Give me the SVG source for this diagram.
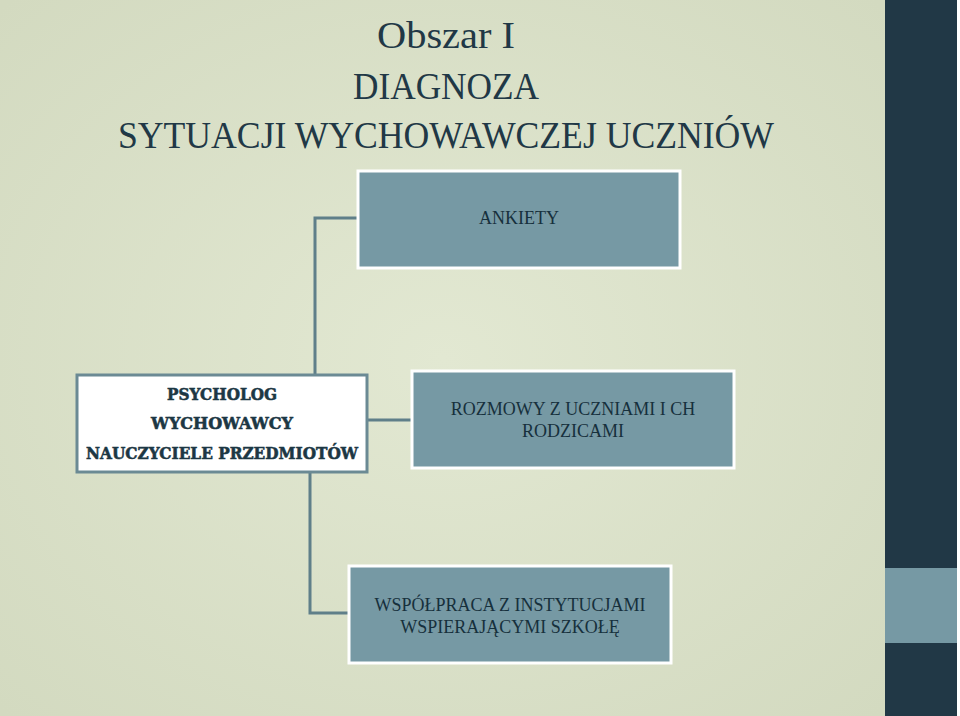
<svg xmlns="http://www.w3.org/2000/svg" width="960" height="716" viewBox="0 0 960 716">
<defs>
<radialGradient id="bg" cx="0.5" cy="0.5" r="0.7">
<stop offset="0" stop-color="#e2e8d2"/><stop offset="1" stop-color="#d3dac0"/>
</radialGradient>
<style>
.box{fill:#7699a4;stroke:#ffffff;stroke-width:3}
.wbox{fill:#ffffff;stroke:#6b8a94;stroke-width:3}
.t{font-family:"Liberation Serif",serif;font-size:18px;fill:#16303c;text-anchor:middle}
.b{font-family:"DejaVu Serif",serif;font-weight:900;font-size:17px;fill:#1c3744;text-anchor:middle;stroke:#1c3744;stroke-width:0.6}
.h{font-family:"Liberation Serif",serif;font-size:38px;fill:#213846;text-anchor:middle}
.c{fill:none;stroke:#5f7f89;stroke-width:3}
</style>
</defs>
<rect width="960" height="716" fill="#fff"/>
<rect x="0" y="0" width="886" height="716" fill="url(#bg)"/>
<rect x="885" y="0" width="72" height="716" fill="#213846"/>
<rect x="885" y="568" width="72" height="75" fill="#7699a4"/>
<text class="h" x="446" y="48" textLength="138" lengthAdjust="spacingAndGlyphs">Obszar I</text>
<text class="h" x="446" y="99" textLength="186" lengthAdjust="spacingAndGlyphs">DIAGNOZA</text>
<text class="h" x="446" y="148" textLength="656" lengthAdjust="spacingAndGlyphs">SYTUACJI WYCHOWAWCZEJ UCZNIÓW</text>
<g id="connectors">
<path class="c" d="M358 218H315V374"/>
<path class="c" d="M367 420H412"/>
<path class="c" d="M310 472V613H349"/>
</g>
<g id="ankiety"><rect class="box" x="358" y="171" width="322" height="97"/><text class="t" x="519" y="224">ANKIETY</text></g>
<g id="kadra"><rect class="wbox" x="77" y="375" width="290" height="97"/>
<text class="b" x="222" y="400" textLength="110" lengthAdjust="spacingAndGlyphs">PSYCHOLOG</text>
<text class="b" x="222" y="429" textLength="142" lengthAdjust="spacingAndGlyphs">WYCHOWAWCY</text>
<text class="b" x="222" y="459" textLength="272" lengthAdjust="spacingAndGlyphs">NAUCZYCIELE PRZEDMIOTÓW</text></g>
<g id="rozmowy"><rect class="box" x="412" y="371" width="322" height="97"/>
<text class="t" x="573" y="415">ROZMOWY Z UCZNIAMI I CH</text><text class="t" x="573" y="437">RODZICAMI</text></g>
<g id="wspolpraca"><rect class="box" x="349" y="566" width="322" height="97"/>
<text class="t" x="510" y="611">WSPÓŁPRACA Z INSTYTUCJAMI</text><text class="t" x="510" y="633">WSPIERAJĄCYMI SZKOŁĘ</text></g>
</svg>
